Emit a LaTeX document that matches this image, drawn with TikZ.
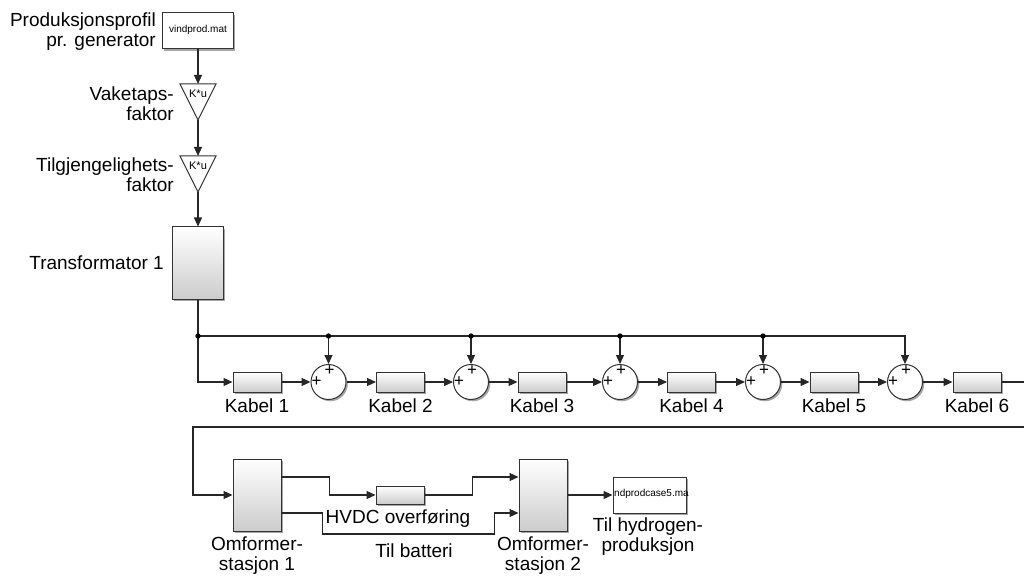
\documentclass[tikz,border=0pt]{standalone}
\usepackage{fontspec}
\setmainfont{Liberation Sans}
\usetikzlibrary{arrows.meta,shadows,calc}

\tikzset{
  wire/.style={line width=1.1pt, draw=black!85},
  sig/.style={wire, -{Triangle[length=9pt,width=8pt]}},
  shade/.style={drop shadow={shadow xshift=1.8pt, shadow yshift=-1.8pt, opacity=0.35, fill=black}},
  block/.style={draw=black!80, line width=1pt, inner sep=0pt, top color=white, bottom color=black!20, shade},
  fileblk/.style={draw=black!80, line width=1pt, inner sep=0pt, fill=white, shade},
  smalltxt/.style={inner sep=0pt, font=\fontsize{10}{12}\selectfont},
  gainshape/.style={draw=black!80, line width=1pt, fill=white, line join=miter},
  gaintxt/.style={inner sep=0pt, font=\fontsize{11}{12}\selectfont},
  sumblk/.style={circle, draw=black!80, line width=1pt, fill=white, minimum size=35pt, inner sep=0pt, shade},
  plus/.style={inner sep=0pt, font=\fontsize{17}{17}\selectfont},
  lbl/.style={inner sep=0pt, align=center},
  dot/.style={fill=black}
}

\begin{document}
\begin{tikzpicture}[x=1pt, y=-1pt, font=\fontsize{19}{20}\selectfont]
\useasboundingbox (0,0) rectangle (1024,577);

% wind production source
\node[fileblk, minimum width=71pt, minimum height=36pt] (src) at (198,31) {};
\node[smalltxt] (srct) at (198,30) {vindprod.mat};
\node[lbl, anchor=east, align=right] (srclbl) at (156,32) {Produksjonsprofil\\pr. generator};

% gain blocks (downward triangles)
\coordinate (g1top) at (198,84);
\coordinate (g1apex) at (198,120);
\draw[gainshape] ($(g1top)+(-18,0)$) -- ($(g1top)+(18,0)$) -- (g1apex) -- cycle;
\node[gaintxt] (g1t) at (198,94) {K*u};
\node[lbl, anchor=east, align=right] (g1l) at (174,104) {Vaketaps-\\faktor};

\coordinate (g2top) at (198,156);
\coordinate (g2apex) at (198,192);
\draw[gainshape] ($(g2top)+(-18,0)$) -- ($(g2top)+(18,0)$) -- (g2apex) -- cycle;
\node[gaintxt] (g2t) at (198,166) {K*u};
\node[lbl, anchor=east, align=right] (g2l) at (174,175) {Tilgjengelighets-\\faktor};

% transformer
\node[block, minimum width=51pt, minimum height=72pt] (tr) at (198,263) {};
\node[lbl, anchor=east] (trl) at (164,263) {Transformator 1};

\draw[sig] (src.south) -- (g1top);
\draw[sig] (g1apex) -- (g2top);
\draw[sig] (g2apex) -- (tr.north);

% cable chain
\node[block, minimum width=48pt, minimum height=20pt] (k1) at (257,382) {};
\node[sumblk] (s1) at (328.5,382) {};
\node[block, minimum width=48pt, minimum height=20pt] (k2) at (400.5,382) {};
\node[sumblk] (s2) at (471,382) {};
\node[block, minimum width=48pt, minimum height=20pt] (k3) at (542,382) {};
\node[sumblk] (s3) at (620,382) {};
\node[block, minimum width=48pt, minimum height=20pt] (k4) at (691.5,382) {};
\node[sumblk] (s4) at (763,382) {};
\node[block, minimum width=48pt, minimum height=20pt] (k5) at (834,382) {};
\node[sumblk] (s5) at (905,382) {};
\node[block, minimum width=48pt, minimum height=20pt] (k6) at (977,382) {};

\foreach \s in {s1,s2,s3,s4,s5}{
  \node[plus] (\s pl) at ($(\s)+(-12,0)$) {+};
  \node[plus] (\s pt) at ($(\s)+(1,-11)$) {+};
}

\node[lbl] (k1l) at (257,406) {Kabel 1};
\node[lbl] (k2l) at (400.5,406) {Kabel 2};
\node[lbl] (k3l) at (542,406) {Kabel 3};
\node[lbl] (k4l) at (691.5,406) {Kabel 4};
\node[lbl] (k5l) at (834,406) {Kabel 5};
\node[lbl] (k6l) at (977,406) {Kabel 6};

% branch line feeding each summation
\coordinate (j0) at (198,336);
\coordinate (j1) at (s1.north |- j0);
\coordinate (j2) at (s2.north |- j0);
\coordinate (j3) at (s3.north |- j0);
\coordinate (j4) at (s4.north |- j0);
\draw[wire] (tr.south) -- (j0);
\draw[sig] (j0) -| (s5.north);
\draw[sig] (j0) |- (k1.west);
\draw[sig] (j1) -- (s1.north);
\draw[sig] (j2) -- (s2.north);
\draw[sig] (j3) -- (s3.north);
\draw[sig] (j4) -- (s4.north);
\foreach \j in {j0,j1,j2,j3,j4}{ \fill[dot] (\j) circle (2.7pt); }

\draw[sig] (k1.east) -- (s1.west);
\draw[sig] (s1.east) -- (k2.west);
\draw[sig] (k2.east) -- (s2.west);
\draw[sig] (s2.east) -- (k3.west);
\draw[sig] (k3.east) -- (s3.west);
\draw[sig] (s3.east) -- (k4.west);
\draw[sig] (k4.east) -- (s4.west);
\draw[sig] (s4.east) -- (k5.west);
\draw[sig] (k5.east) -- (s5.west);
\draw[sig] (s5.east) -- (k6.west);
\coordinate (outR) at (1024,382);
\draw[wire] (k6.east) -- (outR);

% converter stations and HVDC link
\node[block, minimum width=48pt, minimum height=72pt] (om1) at (257,495) {};
\node[block, minimum width=48pt, minimum height=18pt] (hv) at (400,495) {};
\node[block, minimum width=48pt, minimum height=72pt] (om2) at (543,495) {};
\node[fileblk, minimum width=73pt, minimum height=36pt] (dst) at (649.5,495) {};
\node[smalltxt, anchor=west] (dstt) at (614,494) {ndprodcase5.ma};

\node[lbl] (om1l) at (257,556) {Omformer-\\stasjon 1};
\node[lbl] (om2l) at (543,556) {Omformer-\\stasjon 2};
\node[lbl] (hvl) at (398,519) {HVDC overføring};
\node[lbl] (batl) at (414,551) {Til batteri};
\node[lbl] (dstl) at (648,537) {Til hydrogen-\\produksjon};

\coordinate (inR) at (1024,427);
\coordinate (bendL) at (193,427);
\draw[sig] (inR) -- (bendL) |- (om1.west);

\coordinate (om1o1) at ($(om1.east)+(0,-18)$);
\coordinate (om1o2) at ($(om1.east)+(0,18)$);
\coordinate (om2i1) at ($(om2.west)+(0,-18)$);
\coordinate (om2i2) at ($(om2.west)+(0,18)$);

\draw[sig] (om1o1) -- ++(48,0) |- (hv.west);
\draw[sig] (hv.east) -- ++(48,0) |- (om2i1);
\draw[sig] (om1o2) -- ++(41,0) -- ++(0,21) -| ($(om2i2)+(-24,0)$) -- (om2i2);
\draw[sig] (om2.east) -- (dst.west);
\end{tikzpicture}
\end{document}
